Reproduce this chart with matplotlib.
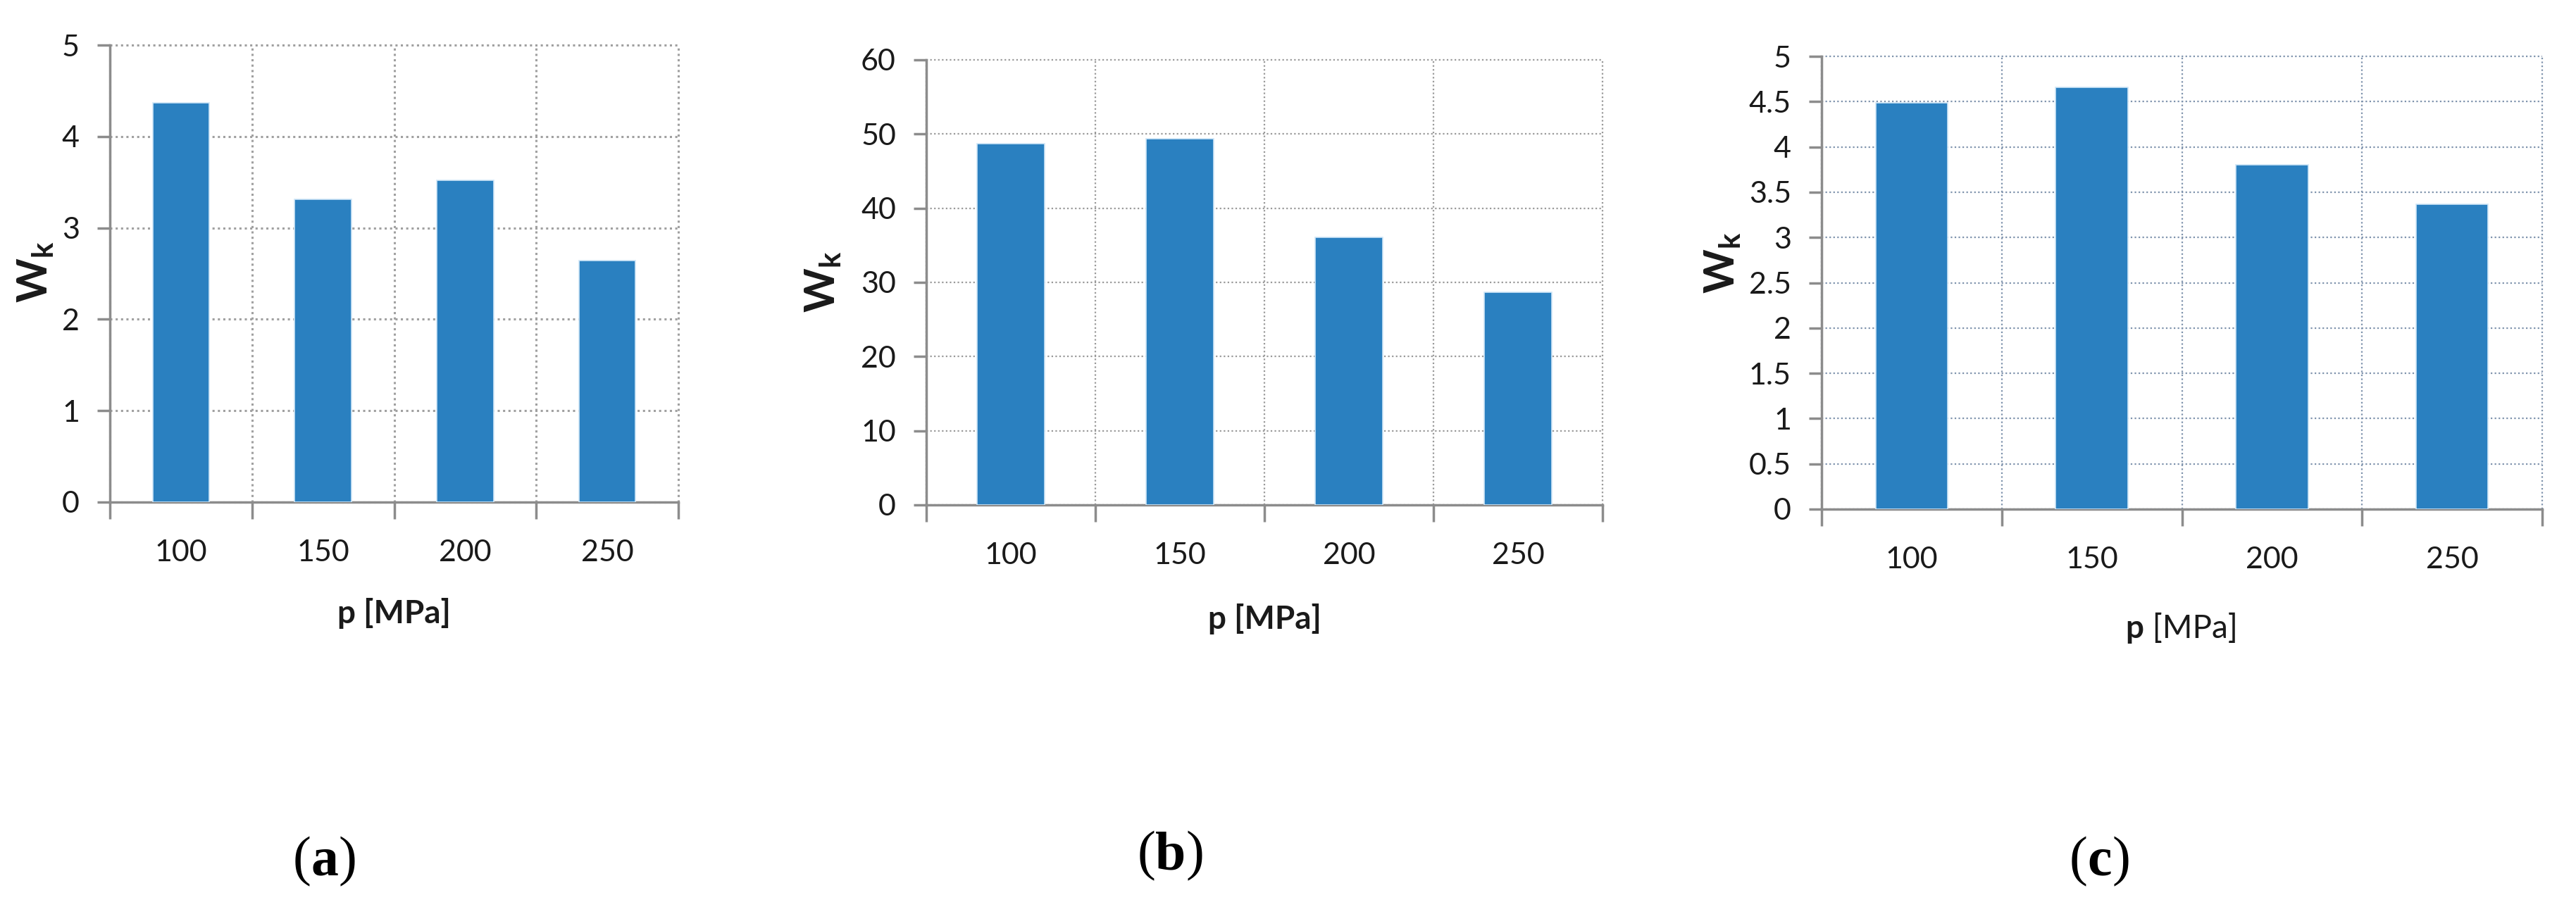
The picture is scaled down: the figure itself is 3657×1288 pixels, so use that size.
import matplotlib
matplotlib.use("Agg")
import matplotlib.pyplot as plt
from matplotlib.offsetbox import TextArea, HPacker, AnnotationBbox

plt.rcParams['font.family'] = ['Lato', 'DejaVu Sans']
plt.rcParams['mathtext.fontset'] = 'custom'
plt.rcParams['mathtext.rm'] = 'Lato'
plt.rcParams['mathtext.bf'] = 'Lato:bold'

# data
pressure = ['100', '150', '200', '250']
wk_a = [4.37, 3.31, 3.52, 2.64]
wk_b = [48.7, 49.4, 36.1, 28.7]
wk_c = [4.49, 4.66, 3.80, 3.37]
panel_letters = ['a', 'b', 'c']

W, H = 3657, 1288
fig = plt.figure(figsize=(W / 100, H / 100), dpi=100)

bar_col = '#2a80c0'

def px(x0, y_top, x1, y_bot):
    return [x0 / W, 1 - y_bot / H, (x1 - x0) / W, (y_bot - y_top) / H]

panels = [
    dict(vals=wk_a, rect=px(156, 64, 963, 713), ymax=5, step=1, fmt='{:g}',
         grid='#a0a0a0', glw=2.2, ylab=(51, 386), xlab=(559, 871), letter=(461, 1224),
         xbold=True),
    dict(vals=wk_b, rect=px(1315, 85, 2275, 717), ymax=60, step=10, fmt='{:g}',
         grid='#9a9a9a', glw=1.6, ylab=(1169, 400), xlab=(1795, 879), letter=(1662, 1216),
         xbold=True),
    dict(vals=wk_c, rect=px(2586, 80, 3609, 723), ymax=5, step=0.5, fmt='{:g}',
         grid='#7f93ad', glw=1.6, ylab=(2446, 373), xlab=(3097, 892), letter=(2981, 1224),
         xbold=False),
]

for i, p in enumerate(panels):
    ax = fig.add_axes(p['rect'])
    x = range(len(pressure))
    ax.bar(x, p['vals'], width=0.4, color=bar_col, edgecolor='#cfe6f7',
           linewidth=1.2, zorder=3)
    ax.set_xlim(-0.5, len(pressure) - 0.5)
    ax.set_ylim(0, p['ymax'])
    n = int(round(p['ymax'] / p['step']))
    yt = [k * p['step'] for k in range(n + 1)]
    ax.set_yticks(yt)
    ax.set_yticklabels([p['fmt'].format(v) for v in yt])
    ax.set_xticks([k - 0.5 for k in range(len(pressure) + 1)])
    ax.set_xticklabels([])
    ax.set_xticks(list(x), minor=True)
    ax.set_xticklabels(pressure, minor=True)
    ax.tick_params(axis='x', which='major', length=17, width=2.5, color='#8c8c8c',
                   direction='out')
    ax.tick_params(axis='x', which='minor', length=0, pad=38, labelsize=31,
                   labelcolor='#1a1a1a')
    ax.tick_params(axis='y', length=13, width=2.5, color='#8c8c8c', pad=18,
                   labelsize=31, labelcolor='#1a1a1a')
    for s in ['top', 'right']:
        ax.spines[s].set_visible(False)
    for s in ['left', 'bottom']:
        ax.spines[s].set_color('#8c8c8c')
        ax.spines[s].set_linewidth(2.5)
    ax.grid(True, which='major', color=p['grid'], linestyle=(0, (1, 1.5)),
            linewidth=p['glw'], zorder=0)
    ax.set_axisbelow(True)
    for gl in ax.get_xgridlines() + ax.get_ygridlines():
        gl.set_clip_on(False)

    fig.text(p['ylab'][0] / W, 1 - p['ylab'][1] / H, r'$\mathbf{W}_{\mathbf{k}}$',
             rotation=90, ha='center', va='center', fontsize=43, color='#1a1a1a')

    tp = dict(fontsize=33, color='#1a1a1a', family=['Lato'])
    if p['xbold']:
        parts = [TextArea('p [MPa]', textprops=dict(tp, weight='bold'))]
    else:
        parts = [TextArea('p', textprops=dict(tp, weight='bold')),
                 TextArea(' [MPa]', textprops=dict(tp, weight='normal'))]
    box = HPacker(children=parts, sep=0, pad=0, align='baseline')
    ab = AnnotationBbox(box, (p['xlab'][0] / W, 1 - p['xlab'][1] / H),
                        xycoords='figure fraction', frameon=False,
                        box_alignment=(0.5, 0.5))
    fig.add_artist(ab)

    sp = dict(fontsize=56, color='black', family=['Liberation Serif'])
    parts = [TextArea('(', textprops=sp),
             TextArea(panel_letters[i], textprops=dict(sp, weight='bold')),
             TextArea(')', textprops=sp)]
    box = HPacker(children=parts, sep=0, pad=0, align='baseline')
    ab = AnnotationBbox(box, (p['letter'][0] / W, 1 - p['letter'][1] / H),
                        xycoords='figure fraction', frameon=False,
                        box_alignment=(0.5, 0.5))
    fig.add_artist(ab)

fig.savefig('out.png', dpi=100, facecolor='white')
